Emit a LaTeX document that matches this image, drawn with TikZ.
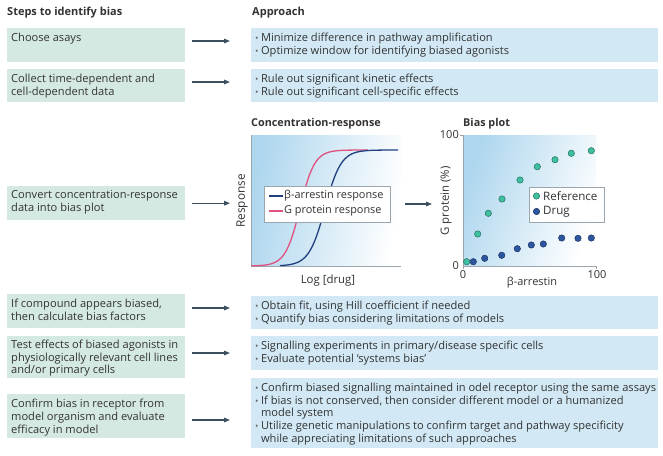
\documentclass[tikz,border=0pt]{standalone}
\usepackage{fontspec}
\setmainfont{Open Sans}
\usetikzlibrary{arrows.meta,calc}
\definecolor{lbox}{HTML}{D5E9E3}
\definecolor{rbox}{HTML}{D2E9F5}
\definecolor{arrowc}{HTML}{3C4F5E}
\definecolor{txt}{HTML}{333333}
\definecolor{bulc}{HTML}{666666}
\definecolor{plotbg}{HTML}{AED6EE}
\definecolor{axisc}{HTML}{9AA5AD}
\definecolor{gcurve}{HTML}{E0517E}
\definecolor{bcurve}{HTML}{1F3F7F}
\definecolor{refc}{HTML}{3DBFA0}
\definecolor{drugc}{HTML}{2D56A0}
\newcommand\mybul{{\color{bulc}\fontsize{9}{9}\selectfont\textbullet}\hspace{2.5pt}}
\begin{document}
\begin{tikzpicture}[x=1pt,y=-1pt,
  font=\fontsize{11.1}{12.9}\selectfont, text=txt,
  lbx/.style={fill=lbox, draw=none, anchor=north west, inner sep=0pt, minimum width=178pt},
  rbx/.style={fill=rbox, draw=none, anchor=north west, inner sep=0pt, minimum width=407pt},
  lt/.style={anchor=north west, inner sep=0pt, align=left},
  hdr/.style={anchor=west, inner sep=0pt, font=\fontsize{11}{13}\selectfont\bfseries},
  ptitle/.style={anchor=west, inner sep=0pt, font=\fontsize{10.8}{12}\selectfont\bfseries},
  arr/.style={draw=arrowc, line width=1.4pt, -{Triangle[length=6pt,width=4.5pt]}},
  ax/.style={draw=axisc, line width=0.7pt},
  small/.style={font=\fontsize{11}{12}\selectfont},
  lab/.style={inner sep=0pt, font=\fontsize{11.6}{13}\selectfont},
  refdot/.style={circle, fill=refc, draw=refc!60!black, line width=0.5pt, inner sep=0pt, minimum size=6.4pt},
  drugdot/.style={circle, fill=drugc, draw=drugc!60!black, line width=0.5pt, inner sep=0pt, minimum size=6.4pt},
  legbox/.style={fill=white, draw=axisc, line width=0.6pt, anchor=north west, inner sep=0pt}
]
\useasboundingbox (0,0) rectangle (663,455);
\fill[white] (0,0) rectangle (663,455);

% headers
\node[hdr] (h1) at (7,13) {Steps to identify bias};
\node[hdr] (h2) at (252,13) {Approach};

% left boxes
\node[lbx, minimum height=34pt] (l1) at (7,28) {};
\node[lbx, minimum height=33pt] (l2) at (7,69) {};
\node[lbx, minimum height=34pt] (l3) at (7,186) {};
\node[lbx, minimum height=34pt] (l4) at (7,294) {};
\node[lbx, minimum height=42pt] (l5) at (7,336) {};
\node[lbx, minimum height=44pt] (l6) at (7,394) {};

\node[lt] (lt1) at ([shift={(4,4.5)}]l1.north west) {Choose asays};
\node[lt] (lt2) at ([shift={(4,4.5)}]l2.north west) {Collect time-dependent and\\cell-dependent data};
\node[lt] (lt3) at ([shift={(4,4.5)}]l3.north west) {Convert concentration-response\\data into bias plot};
\node[lt] (lt4) at ([shift={(4,4.5)}]l4.north west) {If compound appears biased,\\then calculate bias factors};
\node[lt] (lt5) at ([shift={(4,3.5)}]l5.north west) {Test effects of biased agonists in\\physiologically relevant cell lines\\and/or primary cells};
\node[lt] (lt6) at ([shift={(4,4.5)}]l6.north west) {Confirm bias in receptor from\\model organism and evaluate\\efficacy in model};

% right boxes
\node[rbx, minimum height=34pt] (r1) at (251,28) {};
\node[rbx, minimum height=33pt] (r2) at (251,69) {};
\node[rbx, minimum height=33pt] (r4) at (251,296) {};
\node[rbx, minimum height=34pt] (r5) at (251,336) {};
\node[rbx, minimum height=70pt] (r6) at (251,378) {};

\node[lt] (rt1) at ([shift={(4,4.5)}]r1.north west) {\mybul Minimize difference in pathway amplification\\\mybul Optimize window for identifying biased agonists};
\node[lt] (rt2) at ([shift={(4,4.5)}]r2.north west) {\mybul Rule out significant kinetic effects\\\mybul Rule out significant cell-specific effects};
\node[lt] (rt4) at ([shift={(4,4.5)}]r4.north west) {\mybul Obtain fit, using Hill coefficient if needed\\\mybul Quantify bias considering limitations of models};
\node[lt] (rt5) at ([shift={(4,4.5)}]r5.north west) {\mybul Signalling experiments in primary/disease specific cells\\\mybul Evaluate potential `systems bias'};
\node[lt] (rt6) at ([shift={(4,4.5)}]r6.north west) {\mybul Confirm biased signalling maintained in odel receptor using the same assays\\\mybul If bias is not conserved, then consider different model or a humanized\\\hphantom{\mybul}model system\\\mybul Utilize genetic manipulations to confirm target and pathway specificity\\\hphantom{\mybul}while appreciating limitations of such approaches};

% arrows
\draw[arr] ([shift={(7,13)}]l1.north east) -- ([shift={(-21,13)}]r1.north west);
\draw[arr] ([shift={(7,13)}]l2.north east) -- ([shift={(-21,13)}]r2.north west);
\draw[arr] ([xshift=7pt]l3.east) -- ([xshift=-21pt]l3.east -| r1.west);
\draw[arr] ([shift={(7,14)}]l4.north east) -- ([shift={(-21,12)}]r4.north west);
\draw[arr] ([shift={(7,17)}]l5.north east) -- ([shift={(-21,17)}]r5.north west);
\draw[arr] ([shift={(7,26)}]l6.north east) -- ([shift={(-21,42)}]r6.north west);

% concentration-response plot
\node[ptitle] (ct) at (251,124) {Concentration-response};
\shade[left color=plotbg, right color=white, shading angle=80] (251,135) rectangle (401,266);
\coordinate (co) at (251,266);
\coordinate (cend) at (401,266);
\draw[ax] (251,135) -- (co) -- (cend);
\draw[gcurve, line width=1.3pt] plot[domain=251.5:368, samples=90, smooth] (\x, {266-116/(1+exp(-(\x-300)/7.3))});
\draw[bcurve, line width=1.3pt] plot[domain=280:398, samples=90, smooth] (\x, {266-116/(1+exp(-(\x-325)/8))});
\node[legbox, minimum width=126pt, minimum height=36pt] (cl) at (264,186) {};
\draw[bcurve, line width=1.3pt] ([shift={(5,10)}]cl.north west) -- ++(14,0) coordinate (cl1);
\draw[gcurve, line width=1.3pt] ([shift={(5,25)}]cl.north west) -- ++(14,0) coordinate (cl2);
\node[lab, anchor=west, font=\fontsize{10.9}{13}\selectfont] (clt1) at ([xshift=1pt]cl1) {β-arrestin response};
\node[lab, anchor=west, font=\fontsize{10.9}{13}\selectfont] (clt2) at ([xshift=1pt]cl2) {G protein response};
\node[lab, rotate=90, font=\fontsize{11.8}{13}\selectfont] (cyl) at (242,201) {Response};
\node[lab, font=\fontsize{11.4}{13}\selectfont] (cxl) at (328,281) {Log [drug]};

% arrow between plots
\draw[arr] ([xshift=4pt]cend |- 0,204) -- (432,204);

% bias plot
\node[ptitle] (bt) at (463,124) {Bias plot};
\shade[left color=plotbg, right color=white, shading angle=70] (463,135) rectangle (596,266);
\coordinate (bo) at (463,266);
\draw[ax] (460,135) -- (463,135) -- (bo) -- (596,266) -- (596,269);
\draw[ax] (bo) -- (463,269);
\node[small, anchor=east, inner sep=0pt] (by100) at (459,135) {100};
\node[small, anchor=east, inner sep=0pt] (by0) at (459,266) {0};
\node[small, anchor=north, inner sep=0pt] (bx0) at (463,270.5) {0};
\node[small, anchor=north, inner sep=0pt] (bx100) at (597,270.5) {100};
\node[lab, font=\fontsize{11}{13}\selectfont] (bxl) at (532,283) {β-arrestin};
\node[lab, rotate=90, font=\fontsize{11.4}{13}\selectfont] (byl) at (446,201) {G protein (\%)};
\foreach \px/\py [count=\i] in {473.3/261.7,484.7/258.3,501.7/255.3,517.3/248.7,531.3/245,543.3/244,561.7/238,578/238.3,591.3/238}
  \node[drugdot] (d\i) at (\px,\py) {};
\foreach \px/\py [count=\i] in {466.7/261.7,477.7/234,488.3/213.3,502/199,520/180,537.3/166.7,555/159.7,571.3/153.3,591.3/150.7}
  \node[refdot] (p\i) at (\px,\py) {};
\node[legbox, minimum width=75pt, minimum height=35pt] (bl) at (529,187) {};
\node[refdot] (bld1) at ([shift={(7.5,9)}]bl.north west) {};
\node[drugdot] (bld2) at ([shift={(7.5,24.5)}]bl.north west) {};
\node[lab, anchor=west, font=\fontsize{11.6}{13}\selectfont] (blt1) at ([xshift=3pt]bld1.east) {Reference};
\node[lab, anchor=west, font=\fontsize{11.6}{13}\selectfont] (blt2) at ([xshift=3pt]bld2.east) {Drug};
\end{tikzpicture}
\end{document}
